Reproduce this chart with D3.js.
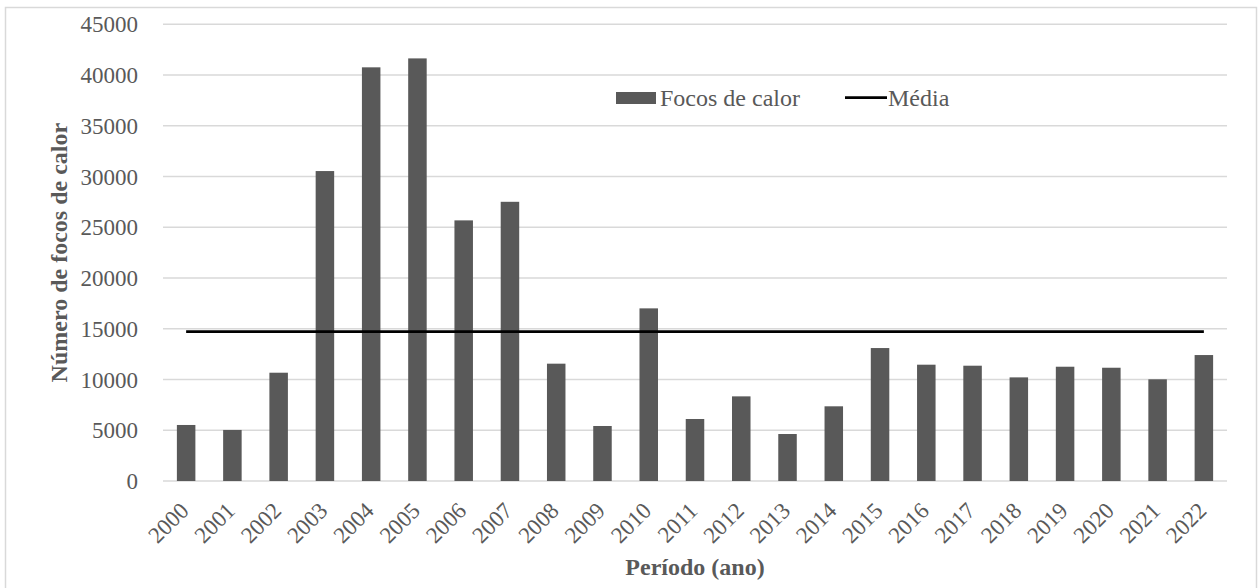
<!DOCTYPE html>
<html lang="pt">
<head>
<meta charset="utf-8">
<script src="https://cdn.jsdelivr.net/npm/d3@7"></script>
<style>
  html, body { margin: 0; padding: 0; background: #fff; }
  svg { display: block; }
  text { font-family: "Liberation Serif", "Times New Roman", serif; }
</style>
</head>
<body>
<svg id="chart" width="1259" height="588"></svg>
<script>
// Anos do período analisado
const anos = ["2000","2001","2002","2003","2004","2005","2006","2007","2008","2009","2010",
  "2011","2012","2013","2014","2015","2016","2017","2018","2019","2020","2021","2022"];

// Número de focos de calor por ano
const focos = [5520, 5030, 10670, 30540, 40760, 41640, 25680, 27510, 11560, 5420, 17010,
  6110, 8340, 4630, 7360, 13100, 11460, 11360, 10210, 11260, 11160, 10020, 12410];

// Média do período
const media = 14730;

// Marcas do eixo vertical
const yTicks = [0, 5000, 10000, 15000, 20000, 25000, 30000, 35000, 40000, 45000];

const svg = d3.select("#chart");
const W = 1259, H = 588;
const plot = { left: 163, right: 1227, top: 24.3, bottom: 481 };

const textColor = "#595959";
const barColor = "#595959";
const gridColor = "#d9d9d9";

// Moldura externa
svg.append("rect")
  .attr("x", 5.5).attr("y", 7.5)
  .attr("width", 1251).attr("height", 590)
  .attr("fill", "#fff")
  .attr("stroke", gridColor).attr("stroke-width", 1.5);

const x = d3.scaleBand()
  .domain(anos)
  .range([plot.left, plot.right])
  .paddingInner(0.6)
  .paddingOuter(0.3);

const y = d3.scaleLinear()
  .domain([0, 45000])
  .range([plot.bottom, plot.top]);

// Linhas de grade
svg.append("g")
  .selectAll("line")
  .data(yTicks)
  .join("line")
  .attr("x1", plot.left).attr("x2", plot.right)
  .attr("y1", d => y(d)).attr("y2", d => y(d))
  .attr("stroke", gridColor).attr("stroke-width", 1.5);

// Eixo Y
const yAxis = svg.append("g")
  .attr("transform", `translate(${plot.left},0)`)
  .call(d3.axisLeft(y).tickValues(yTicks).tickSize(0).tickPadding(25).tickFormat(d3.format("d")));
yAxis.select(".domain").remove();
yAxis.selectAll("text")
  .attr("fill", textColor)
  .style("font-size", "23px")
  .attr("dy", "0.33em");

// Barras
svg.append("g")
  .selectAll("rect")
  .data(anos.map((a, i) => ({ ano: a, valor: focos[i] })))
  .join("rect")
  .attr("x", d => x(d.ano))
  .attr("y", d => y(d.valor))
  .attr("width", x.bandwidth())
  .attr("height", d => y(0) - y(d.valor))
  .attr("fill", barColor);

// Linha da média
const linhaMedia = d3.line()
  .x(d => x(d) + x.bandwidth() / 2)
  .y(() => y(media));
svg.append("path")
  .datum(anos)
  .attr("d", linhaMedia)
  .attr("fill", "none")
  .attr("stroke", "#000")
  .attr("stroke-width", 2.75);

// Eixo X (rótulos inclinados)
const xAxis = svg.append("g")
  .attr("transform", `translate(0,${plot.bottom})`)
  .call(d3.axisBottom(x).tickSize(0).tickPadding(0));
xAxis.select(".domain").remove();
xAxis.selectAll("text")
  .attr("fill", textColor)
  .style("font-size", "23px")
  .attr("text-anchor", "end")
  .attr("dy", null)
  .attr("y", null)
  .attr("transform", "translate(4,31) rotate(-45)");

// Títulos dos eixos
svg.append("text")
  .attr("x", (plot.left + plot.right) / 2)
  .attr("y", 575)
  .attr("text-anchor", "middle")
  .attr("fill", textColor)
  .style("font-size", "24px")
  .style("font-weight", "bold")
  .text("Período (ano)");

svg.append("text")
  .attr("transform", `translate(67,${(plot.top + plot.bottom) / 2}) rotate(-90)`)
  .attr("text-anchor", "middle")
  .attr("fill", textColor)
  .style("font-size", "24px")
  .style("font-weight", "bold")
  .text("Número de focos de calor");

// Legenda
const leg = svg.append("g");
leg.append("rect")
  .attr("x", 616).attr("y", 92)
  .attr("width", 40).attr("height", 12)
  .attr("fill", barColor);
leg.append("text")
  .attr("x", 660).attr("y", 106)
  .attr("fill", textColor)
  .style("font-size", "24px")
  .text("Focos de calor");
leg.append("line")
  .attr("x1", 845).attr("x2", 887)
  .attr("y1", 97.7).attr("y2", 97.7)
  .attr("stroke", "#000").attr("stroke-width", 2.75);
leg.append("text")
  .attr("x", 888).attr("y", 106)
  .attr("fill", textColor)
  .style("font-size", "24px")
  .text("Média");
</script>
</body>
</html>
